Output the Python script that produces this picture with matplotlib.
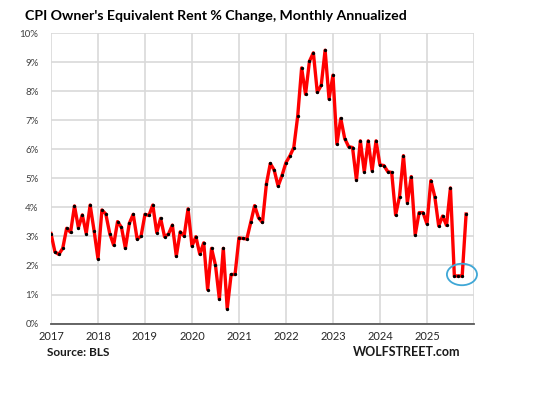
import matplotlib
matplotlib.use("Agg")
import matplotlib.pyplot as plt
from matplotlib.patches import Ellipse

plt.rcParams['font.family'] = ['Lato', 'DejaVu Sans']

# Monthly annualized % change of CPI OER, Jan 2017 .. Nov 2025
start_year = 2017
values = [
    3.10, 2.47, 2.38, 2.59, 3.28, 3.14, 4.05, 3.30, 3.74, 3.10, 4.08, 3.20,  # 2017
    2.23, 3.91, 3.77, 3.10, 2.70, 3.51, 3.31, 2.59, 3.45, 3.76, 2.91, 3.01,  # 2018
    3.76, 3.72, 4.08, 3.13, 3.62, 2.99, 3.08, 3.39, 2.32, 3.16, 3.01, 3.95,  # 2019
    2.67, 2.99, 2.39, 2.78, 1.17, 2.59, 2.01, 0.84, 2.59, 0.51, 1.69, 1.69,  # 2020
    2.95, 2.93, 2.91, 3.48, 4.06, 3.64, 3.48, 4.80, 5.51, 5.28, 4.73, 5.10,  # 2021
    5.54, 5.77, 6.06, 7.14, 8.80, 7.89, 9.03, 9.32, 7.96, 8.20, 9.41, 7.73,  # 2022
    8.55, 6.18, 7.06, 6.37, 6.09, 6.06, 4.94, 6.29, 5.22, 6.29, 5.26, 6.29,  # 2023
    5.46, 5.44, 5.23, 5.20, 3.74, 4.37, 5.78, 4.16, 5.06, 3.05, 3.82, 3.82,  # 2024
    3.43, 4.92, 4.37, 3.36, 3.70, 3.38, 4.67, 1.64, 1.64, 1.64, 3.77,        # 2025
]
year_ticks = [2017, 2018, 2019, 2020, 2021, 2022, 2023, 2024, 2025]
y_ticks = [0, 1, 2, 3, 4, 5, 6, 7, 8, 9, 10]
y_labels = [f"{v}%" for v in y_ticks]
highlight_center = (2025.745, 1.69)

x = [start_year + i / 12 for i in range(len(values))]

fig = plt.figure(figsize=(5.5, 3.98), dpi=100)
ax = fig.add_axes([0.0927, 0.187, 0.769, 0.730])

ax.plot(x, values, color="#ff0000", lw=2.4, zorder=3, solid_joinstyle="round")
ax.plot(x, values, ls="none", marker="o", ms=1.4, color="black", zorder=4)

ax.set_xlim(2017, 2026)
ax.set_ylim(0, 10)
ax.set_xticks(year_ticks + [2026])
ax.set_xticklabels([str(y) for y in year_ticks] + [""])
ax.set_yticks(y_ticks)
ax.set_yticklabels(y_labels)

ax.grid(True, color="#d9d9d9", lw=1.2, zorder=0)
for s in ["top", "right", "left"]:
    ax.spines[s].set_visible(False)
ax.spines["bottom"].set_color("#595959")
ax.spines["bottom"].set_linewidth(1.3)
ax.spines["bottom"].set_zorder(5)
ax.tick_params(axis="both", length=0)
ax.tick_params(axis="y", labelsize=7, labelcolor="#404040", pad=9)
ax.tick_params(axis="x", labelsize=8, labelcolor="#262626", pad=5)

ell = Ellipse(highlight_center, width=0.64, height=0.74, fill=False,
              edgecolor="#3fa7d6", lw=1.3, clip_on=False, zorder=6)
ax.add_patch(ell)

fig.text(25 / 550, 1 - 16 / 398, "CPI Owner's Equivalent Rent % Change, Monthly Annualized",
         fontsize=10.2, fontweight="bold", color="black", va="center", ha="left")
fig.text(47 / 550, 1 - 352 / 398, "Source: BLS", fontsize=8.5, fontweight="bold",
         color="#1a1a1a", va="center", ha="left")
fig.text(460 / 550, 1 - 352 / 398, "WOLFSTREET.com", fontsize=9, fontweight="bold",
         color="#1a1a1a", va="center", ha="right")

fig.savefig("out.png", dpi=100, facecolor="white")
